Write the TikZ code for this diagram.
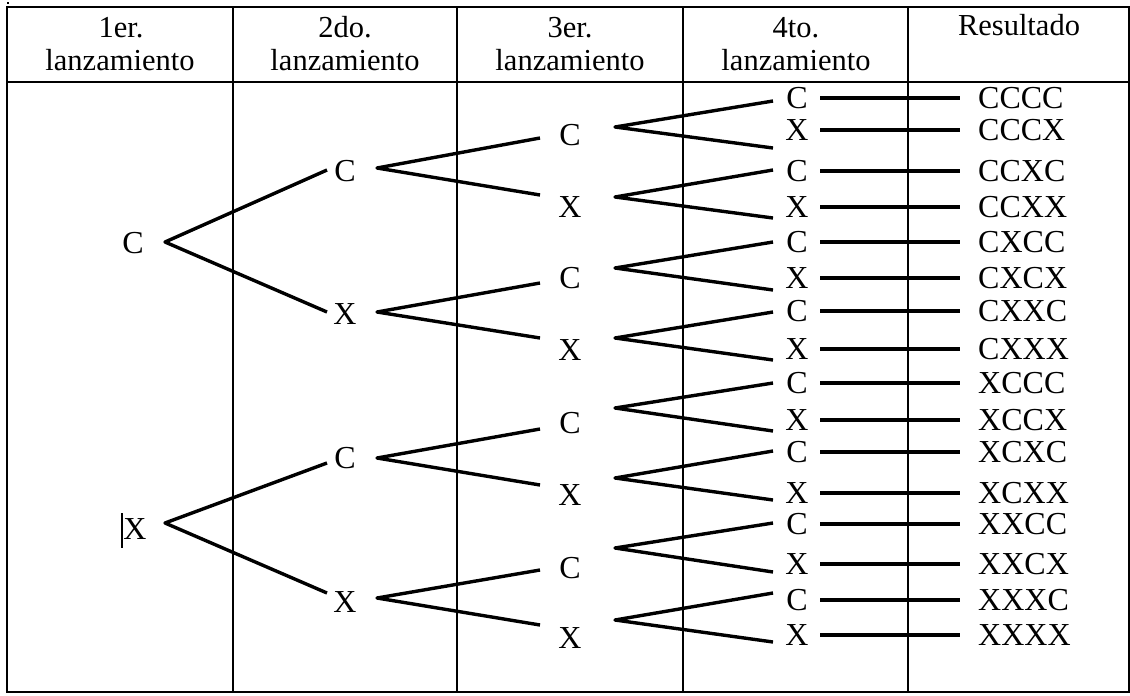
\documentclass[tikz,border=0pt]{standalone}
\usepackage{fontspec}
\setmainfont{Liberation Serif}
\begin{document}
\begin{tikzpicture}[x=1pt,y=-1pt,
  grid/.style={line width=1.8pt,black},
  frame/.style={line width=2.2pt,black},
  branch/.style={line width=3.4pt,black,line join=round},
  lbl/.style={inner sep=0pt,font=\fontsize{32}{38}\selectfont},
  lbl4/.style={lbl,minimum width=46pt},
  res/.style={lbl,anchor=west,inner xsep=18pt,inner ysep=0pt},
  head/.style={inner sep=0pt,anchor=base,font=\fontsize{30.5}{36}\selectfont}]
\useasboundingbox (0,0) rectangle (1130,696);
% table
\draw[frame] (7,7) rectangle (1129,692);
\draw[frame] (7,82) -- (1129,82);
\foreach \cx in {233,457,683,908}{\draw[grid] (\cx,7) -- (\cx,692);}
\fill (6.5,1.5) rectangle (8.5,4);
% headers
\node[head] (h1a) at (121,37) {1er.};
\node[head] (h1b) at (120,70) {lanzamiento};
\node[head] (h2a) at (345,37) {2do.};
\node[head] (h2b) at (345,70) {lanzamiento};
\node[head] (h3a) at (570,37) {3er.};
\node[head] (h3b) at (570,70) {lanzamiento};
\node[head] (h4a) at (796,37) {4to.};
\node[head] (h4b) at (796,70) {lanzamiento};
\node[head] (h5) at (1019,35) {Resultado};
% level 1
\node[lbl] (l1-1) at (133,243) {C};
\node[lbl] (l1-2) at (135,529) {X};
\draw[line width=2.8pt] (122,513) -- (122,548);
\coordinate (b1-1) at (165,242);
\coordinate (b1-2) at (165,523);
% level 2
\foreach \k/\t/\ly/\ey/\by in {1/C/171/170/168,2/X/314/312/312,3/C/458/463/458,4/X/602/593/598}{
  \node[lbl] (l2-\k) at (345,\ly) {\t};
  \coordinate (e2-\k) at (327,\ey);
  \coordinate (b2-\k) at (377,\by);
}
% level 3
\foreach \j/\t/\ly/\by/\ey in {1/C/135/127/138,2/X/207/197/195,3/C/278/268/283,4/X/350/338/338,5/C/423/408/429,6/X/495/478/485,7/C/568/548/570,8/X/638/620/625}{
  \node[lbl] (l3-\j) at (570,\ly) {\t};
  \coordinate (e3-\j) at (540,\ey);
  \coordinate (b3-\j) at (615,\by);
}
% level 4 and results
\foreach \i/\t/\ly/\ey/\r in {1/C/98/101/CCCC,2/X/130/148/CCCX,3/C/171/170/CCXC,4/X/207/218/CCXX,5/C/242/242/CXCC,6/X/278/290/CXCX,7/C/311/312/CXXC,8/X/349/360/CXXX,9/C/383/383/XCCC,10/X/420/431/XCCX,11/C/452/451/XCXC,12/X/493/500/XCXX,13/C/524/523/XXCC,14/X/564/572/XXCX,15/C/600/593/XXXC,16/X/635/642/XXXX}{
  \node[lbl4] (l4-\i) at (797,\ly) {\t};
  \coordinate (e4-\i) at (773,\ey);
  \node[res] (r-\i) at (960,\ly) {\r};
  \draw[branch] (l4-\i.east) -- (r-\i.west);
}
% tree branches
\draw[branch] (e2-1) -- (b1-1) -- (e2-2);
\draw[branch] (e2-3) -- (b1-2) -- (e2-4);
\foreach \k [evaluate=\k as \a using int(2*\k-1), evaluate=\k as \b using int(2*\k)] in {1,...,4}{
  \draw[branch] (e3-\a) -- (b2-\k) -- (e3-\b);
}
\foreach \j [evaluate=\j as \a using int(2*\j-1), evaluate=\j as \b using int(2*\j)] in {1,...,8}{
  \draw[branch] (e4-\a) -- (b3-\j) -- (e4-\b);
}
\end{tikzpicture}
\end{document}
